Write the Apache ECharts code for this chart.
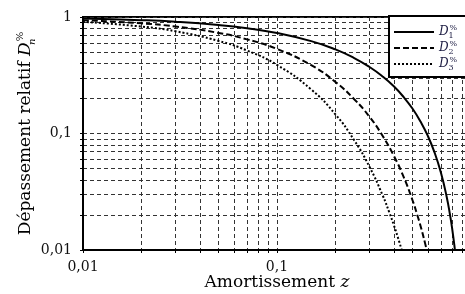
<!DOCTYPE html>
<html>
<head>
<meta charset="utf-8">
<script src="https://cdn.jsdelivr.net/npm/echarts@6/dist/echarts.min.js"></script>
<style>
html, body { margin: 0; padding: 0; background: #fff; }
#chart { width: 465px; height: 294px; }
</style>
</head>
<body>
<div id="chart"></div>
<script>
'use strict'

// valeurs
const z1 = [0.01, 0.02, 0.03, 0.05, 0.07, 0.1, 0.15, 0.2, 0.25, 0.3, 0.35, 0.4, 0.45, 0.5, 0.55, 0.6, 0.65, 0.7, 0.75, 0.78, 0.8, 0.82, 0.84]
const D1 = [0.969, 0.939, 0.910, 0.854, 0.802, 0.729, 0.621, 0.527, 0.444, 0.372, 0.309, 0.254, 0.205, 0.163, 0.126, 0.0948, 0.0681, 0.0460, 0.0284, 0.0199, 0.0152, 0.0111, 0.0077]

const z2 = [0.01, 0.02, 0.03, 0.05, 0.07, 0.1, 0.15, 0.2, 0.25, 0.3, 0.35, 0.4, 0.45, 0.5, 0.53, 0.55, 0.58, 0.6]
const D2 = [0.939, 0.882, 0.828, 0.730, 0.643, 0.532, 0.386, 0.277, 0.197, 0.139, 0.0956, 0.0644, 0.0422, 0.0266, 0.0197, 0.0160, 0.0114, 0.0090]

const z3 = [0.01, 0.02, 0.03, 0.05, 0.07, 0.1, 0.15, 0.2, 0.25, 0.3, 0.35, 0.38, 0.4, 0.42, 0.44]
const D3 = [0.910, 0.828, 0.754, 0.623, 0.516, 0.388, 0.239, 0.146, 0.0875, 0.0516, 0.0296, 0.0208, 0.0164, 0.0128, 0.0099]

const gridTicks = [0.01, 0.02, 0.03, 0.04, 0.05, 0.06, 0.07, 0.08, 0.09, 0.1, 0.2, 0.3, 0.4, 0.5, 0.6, 0.7, 0.8, 0.9, 1]
const labelTicks = [0.01, 0.1, 1]

const names = ['D1', 'D2', 'D3']
const font = 'DejaVu Serif'

function pairs(xs, ys) {
    return xs.map((v, k) => [v, ys[k]])
}

function fmt(v) {
    return String(v).replace('.', ',')
}

const axisCommon = {
    type: 'log',
    logBase: 10,
    min: 0.01,
    max: 1,
    nameMoveOverlap: false,
    axisLine: { show: true, onZero: false, lineStyle: { color: '#000', width: 2 } },
    axisTick: { show: true, customValues: gridTicks, length: 3, lineStyle: { color: '#000' } },
    axisLabel: {
        customValues: labelTicks,
        color: '#111',
        fontFamily: font,
        fontSize: 14,
        formatter: fmt
    },
    splitLine: {
        show: true,
        lineStyle: { color: '#333', width: 1, type: [4, 3] }
    },
    minorTick: { show: false }
}

const subSup = {
    i: { fontFamily: font, fontStyle: 'italic', fontSize: 17, lineHeight: 22, color: '#000' },
    b: { fontFamily: font, fontStyle: 'italic', fontSize: 10, lineHeight: 10, verticalAlign: 'bottom', width: 1, color: '#000' },
    p: { fontFamily: font, fontSize: 10, lineHeight: 10, verticalAlign: 'top', color: '#000' }
}

const option = {
    animation: false,
    backgroundColor: '#fff',
    color: ['#000', '#000', '#000'],
    grid: {
        left: 83,
        top: 17,
        width: 388,
        height: 233,
        show: true,
        borderColor: '#000',
        borderWidth: 2,
        containLabel: false,
        outerBoundsMode: 'none'
    },
    xAxis: Object.assign({}, axisCommon, {
        name: 'Amortissement {z|z}',
        nameLocation: 'middle',
        nameGap: 24,
        nameTextStyle: {
            fontFamily: font, fontSize: 17, color: '#000',
            rich: { z: { fontFamily: font, fontStyle: 'italic', fontSize: 17, color: '#000' } }
        },
        axisLabel: Object.assign({}, axisCommon.axisLabel, { margin: 10 })
    }),
    yAxis: Object.assign({}, axisCommon, {
        name: 'Dépassement relatif {i|D}{b|n}{p|%}',
        nameLocation: 'middle',
        nameRotate: 90,
        nameGap: 46,
        nameTextStyle: {
            fontFamily: font, fontSize: 17, color: '#000', lineHeight: 22,
            rich: subSup
        },
        axisLabel: Object.assign({}, axisCommon.axisLabel, { margin: 11 })
    }),
    legend: {
        data: names,
        left: 389,
        top: 16,
        orient: 'vertical',
        itemWidth: 40,
        itemHeight: 10,
        itemGap: 0,
        padding: [8, 60, 5, 4],
        backgroundColor: '#fff',
        borderColor: '#000',
        borderWidth: 2,
        borderRadius: 0,
        selectedMode: false,
        itemStyle: { color: 'transparent', borderWidth: 0, opacity: 0 },
        formatter: function (name) {
            return '{i|D}{b|' + name.slice(1) + '}{p|%}'
        },
        textStyle: {
            lineHeight: 16,
            rich: {
                i: { fontFamily: font, fontStyle: 'italic', fontSize: 12, lineHeight: 16, color: '#1a1a40' },
                b: { fontFamily: font, fontSize: 8, lineHeight: 8, verticalAlign: 'bottom', width: 1, color: '#1a1a40' },
                p: { fontFamily: font, fontSize: 8, lineHeight: 8, verticalAlign: 'top', color: '#1a1a40' }
            }
        }
    },
    series: [
        {
            name: 'D1', type: 'line', data: pairs(z1, D1), smooth: true, symbol: 'none',
            clip: true, lineStyle: { color: '#000', width: 2, type: 'solid' }
        },
        {
            name: 'D2', type: 'line', data: pairs(z2, D2), smooth: true, symbol: 'none',
            clip: true, lineStyle: { color: '#000', width: 2, type: [6, 3] }
        },
        {
            name: 'D3', type: 'line', data: pairs(z3, D3), smooth: true, symbol: 'none',
            clip: true, lineStyle: { color: '#000', width: 2, type: [2, 2] }
        }
    ]
}

const myChart = echarts.init(document.getElementById('chart'))
myChart.setOption(option)
</script>
</body>
</html>
